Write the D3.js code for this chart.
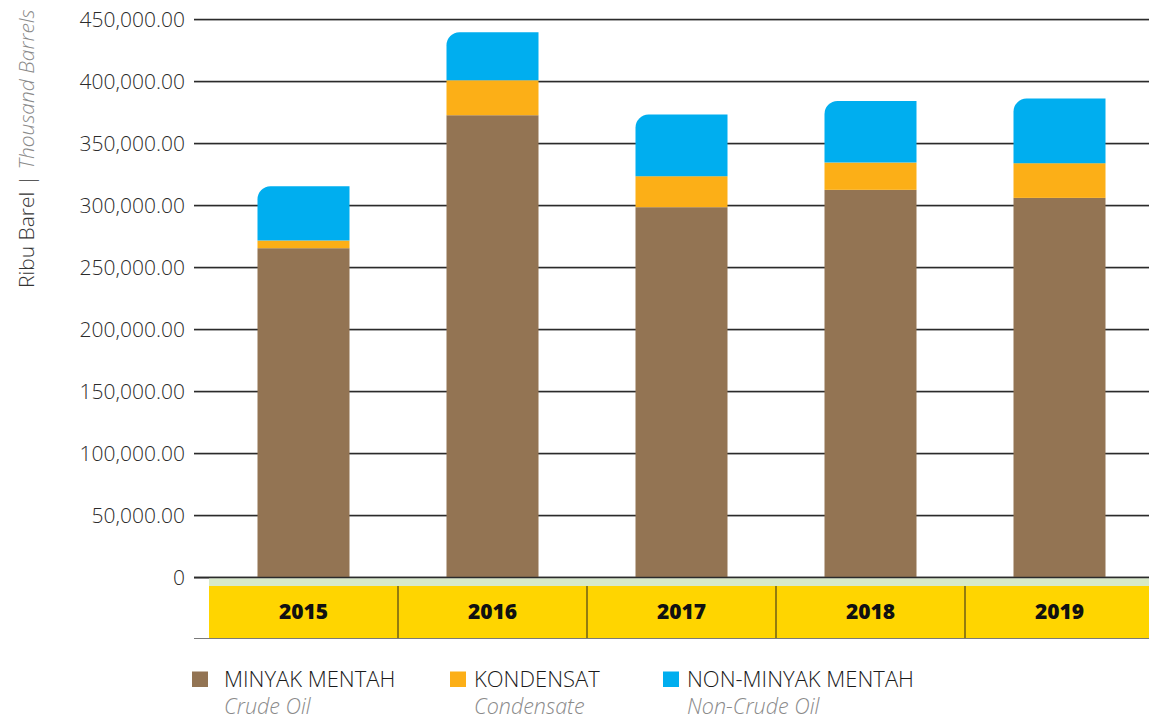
<!DOCTYPE html>
<html><head><meta charset="utf-8">
<script src="https://cdn.jsdelivr.net/npm/d3@7"></script>
<style>
html,body{margin:0;padding:0;background:#fff;}
svg{display:block;font-family:"Open Sans",sans-serif;}
</style></head>
<body><svg id="c" width="1149" height="720"></svg>
<script>
const years = ["2015","2016","2017","2018","2019"];
const crudeOil = [265300, 372600, 298400, 312400, 305900];
const condensate = [6200, 28200, 25000, 22000, 28000];
const nonCrudeOil = [43800, 38700, 49700, 49700, 52100];
const yTicks = [0, 50000, 100000, 150000, 200000, 250000, 300000, 350000, 400000, 450000];
const seriesKeys = ["crude","cond","noncrude"];
const seriesColors = ["#937453", "#fcaf17", "#00aeef"];
const legendMain = ["MINYAK MENTAH", "KONDENSAT", "NON-MINYAK MENTAH"];
const legendSub = ["Crude Oil", "Condensate", "Non-Crude Oil"];

const svg = d3.select("#c");
const y = d3.scaleLinear().domain([0, 450000]).range([577, 19.3]);
const x = d3.scaleBand().domain(years).range([209, 1154]).paddingInner(0).paddingOuter(0);
const barW = 92;

// gridlines
const grid = svg.append("g");
grid.selectAll("line.s").data(yTicks).join("line")
  .attr("x1", 194).attr("x2", 1149)
  .attr("y1", d => Math.round(y(d)) + 1.5).attr("y2", d => Math.round(y(d)) + 1.5)
  .attr("stroke", "#d0d0d0").attr("stroke-width", 1);
grid.selectAll("line.g").data(yTicks).join("line")
  .attr("x1", 194).attr("x2", 1149)
  .attr("y1", d => Math.round(y(d)) + 0.5).attr("y2", d => Math.round(y(d)) + 0.5)
  .attr("stroke", "#2b2b2b").attr("stroke-width", 1.3);

// tick labels
const fmt = d => d === 0 ? "0" : d3.format(",.2f")(d);
svg.append("g").selectAll("text").data(yTicks).join("text")
  .attr("x", 185).attr("y", d => y(d) + 7.5)
  .attr("text-anchor", "end")
  .attr("font-size", 21).attr("font-weight", 300).attr("fill", "#2b2b2b")
  .text(fmt);

// stacked data
const table = years.map((yr, i) => ({year: yr, crude: crudeOil[i], cond: condensate[i], noncrude: nonCrudeOil[i]}));
const stacked = d3.stack().keys(seriesKeys)(table);

const r = 13;
stacked.forEach((layer, li) => {
  const g = svg.append("g").attr("fill", seriesColors[li]);
  layer.forEach(d => {
    const x0 = x(d.data.year) + (x.bandwidth() - barW) / 2;
    const yTop = y(d[1]), yBot = y(d[0]);
    if (li === stacked.length - 1) {
      const p = d3.path();
      p.moveTo(x0, yBot);
      p.lineTo(x0, yTop + r);
      p.arcTo(x0, yTop, x0 + r, yTop, r);
      p.lineTo(x0 + barW, yTop);
      p.lineTo(x0 + barW, yBot);
      p.closePath();
      g.append("path").attr("d", p.toString());
    } else {
      g.append("rect").attr("x", x0).attr("y", yTop).attr("width", barW).attr("height", yBot - yTop);
    }
  });
});

// zero line on top
svg.append("line").attr("x1", 194).attr("x2", 1149).attr("y1", 577.5).attr("y2", 577.5)
  .attr("stroke", "#2b2b2b").attr("stroke-width", 1.3);

// category band
svg.append("rect").attr("x", 209).attr("y", 578.5).attr("width", 940).attr("height", 7.5).attr("fill", "#d8eac8");
svg.append("rect").attr("x", 209).attr("y", 586).attr("width", 940).attr("height", 52).attr("fill", "#ffd500");
svg.append("g").selectAll("line").data(years.slice(1)).join("line")
  .attr("x1", d => x(d)).attr("x2", d => x(d)).attr("y1", 586).attr("y2", 638)
  .attr("stroke", "#6f5f14").attr("stroke-width", 1.5);
svg.append("line").attr("x1", 194).attr("x2", 1149).attr("y1", 638.5).attr("y2", 638.5)
  .attr("stroke", "#7a7a7a").attr("stroke-width", 1.2);
svg.append("g").selectAll("text").data(years).join("text")
  .attr("x", d => x(d) + x.bandwidth() / 2).attr("y", 619)
  .attr("text-anchor", "middle").attr("font-size", 21).attr("font-weight", 800).attr("fill", "#111")
  .text(d => d);

// y-axis title
const yt = svg.append("text").attr("transform", "translate(34,288) rotate(-90)")
  .attr("font-size", 21).attr("font-weight", 300);
yt.append("tspan").attr("fill", "#333").text("Ribu Barel | ");
yt.append("tspan").attr("fill", "#8a8a8a").attr("font-style", "italic").text("Thousand Barrels");

// legend
const legX = [192, 450, 663];
const legTextX = [224, 474, 687];
const leg = svg.append("g");
legendMain.forEach((t, i) => {
  leg.append("rect").attr("x", legX[i]).attr("y", 671.5).attr("width", 16).attr("height", 15.5).attr("fill", seriesColors[i]);
  leg.append("text").attr("x", legTextX[i]).attr("y", 687).attr("font-size", 22).attr("font-weight", 300)
    .attr("fill", "#1a1a1a").text(t);
  leg.append("text").attr("x", legTextX[i]).attr("y", 714).attr("font-size", 21.5).attr("font-weight", 300)
    .attr("font-style", "italic").attr("fill", "#8a8a8a").text(legendSub[i]);
});
</script></body></html>
